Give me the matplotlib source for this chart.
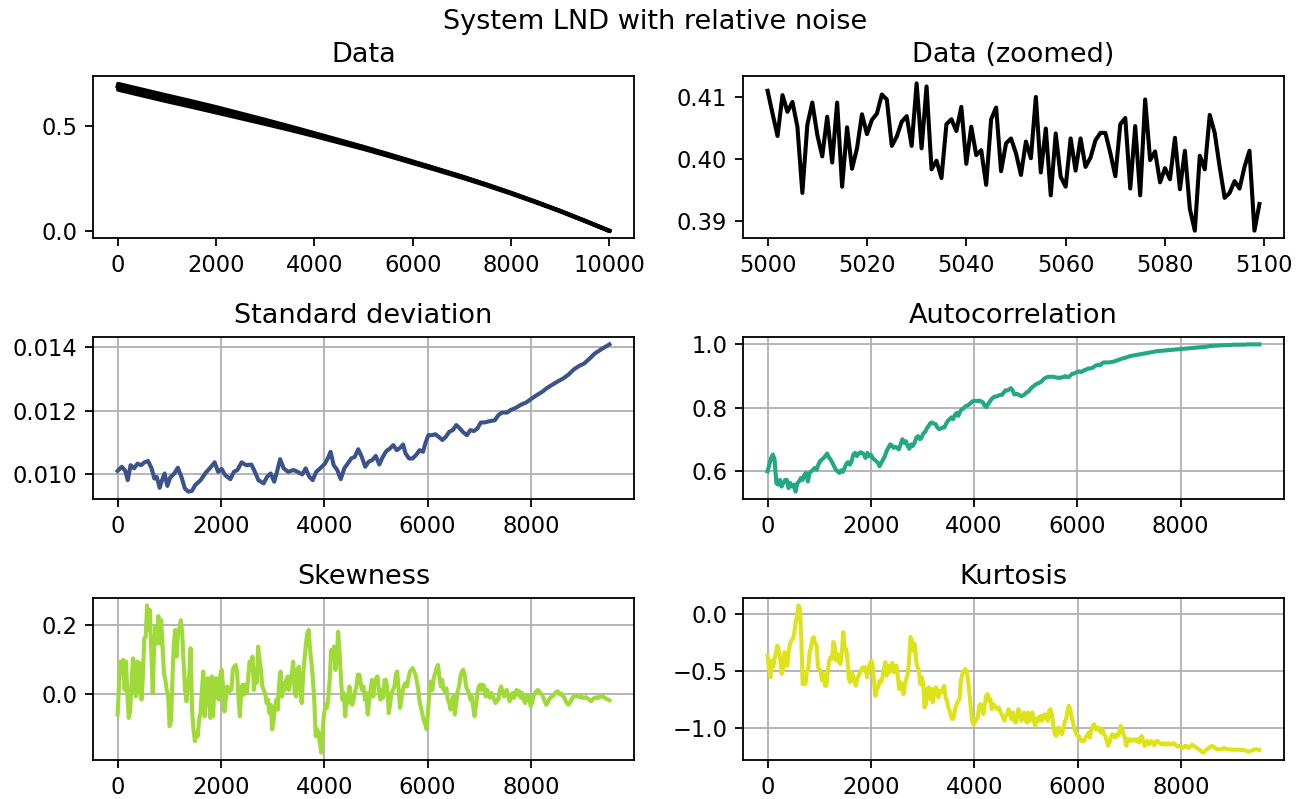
import numpy as np
import matplotlib
matplotlib.use("Agg")
import matplotlib.pyplot as plt

# ---------------- data ----------------
data_x = [0, 500, 1000, 1500, 2000, 2500, 3000, 3500, 4000, 4500, 5000,
          5500, 6000, 6500, 7000, 7500, 8000, 8500, 9000, 9500, 10000]
data_center = [0.693, 0.665, 0.637, 0.610, 0.582, 0.553, 0.524, 0.494, 0.463, 0.431,
               0.399, 0.365, 0.330, 0.295, 0.259, 0.221, 0.181, 0.139, 0.095, 0.048, 0.0]
data_halfband = [0.014, 0.014, 0.014, 0.0135, 0.013, 0.0115, 0.010, 0.0085, 0.007, 0.006,
                 0.005, 0.0045, 0.004, 0.0035, 0.003, 0.0025, 0.002, 0.0015, 0.001, 0.0005, 0.0]

zoom_start = 5000
zoom_vals = [0.4110, 0.4073, 0.4037, 0.4103, 0.4076, 0.4092, 0.4052, 0.3945, 0.4055, 0.4091,
             0.4039, 0.4004, 0.4068, 0.3994, 0.4091, 0.3955, 0.4051, 0.3984, 0.4017, 0.4072,
             0.4040, 0.4063, 0.4073, 0.4104, 0.4096, 0.4021, 0.4036, 0.4060, 0.4069, 0.4021,
             0.4122, 0.4017, 0.4117, 0.3983, 0.3997, 0.3969, 0.4056, 0.4064, 0.4045, 0.4084,
             0.3992, 0.4052, 0.4006, 0.4014, 0.3958, 0.4064, 0.4083, 0.3980, 0.4025, 0.4033,
             0.4009, 0.3974, 0.4028, 0.4001, 0.4100, 0.3978, 0.4049, 0.3941, 0.4041, 0.3971,
             0.3955, 0.4033, 0.3981, 0.4033, 0.3987, 0.4002, 0.4030, 0.4042, 0.4042, 0.4009,
             0.3972, 0.4056, 0.4066, 0.3952, 0.4053, 0.3941, 0.4096, 0.3998, 0.4012, 0.3962,
             0.3985, 0.3967, 0.4034, 0.3951, 0.4013, 0.3919, 0.3884, 0.4005, 0.3983, 0.4071,
             0.4042, 0.3987, 0.3937, 0.3945, 0.3964, 0.3952, 0.3987, 0.4013, 0.3884, 0.3927]

std_x = [0, 81, 149, 197, 251, 319, 386, 454, 522, 590, 658, 712, 759, 814, 861, 909, 963,
         1017, 1098, 1166, 1234, 1302, 1370, 1437, 1505, 1607, 1709, 1810, 1878, 1946, 2014,
         2081, 2183, 2251, 2319, 2400, 2488, 2590, 2658, 2726, 2827, 2895, 2963, 3031, 3085,
         3146, 3214, 3302, 3404, 3485, 3573, 3641, 3709, 3776, 3844, 3932, 4014, 4082, 4122,
         4183, 4251, 4319, 4387, 4454, 4522, 4590, 4658, 4726, 4793, 4861, 4929, 4997, 5065,
         5133, 5200, 5268, 5336, 5404, 5471, 5526, 5573, 5641, 5709, 5777, 5844, 5912, 5946,
         6014, 6082, 6149, 6217, 6285, 6353, 6421, 6488, 6556, 6624, 6692, 6760, 6827, 6895,
         6963, 7031, 7099, 7200, 7302, 7370, 7438, 7539, 7607, 7709, 7811, 7912, 8014, 8116,
         8217, 8319, 8421, 8522, 8624, 8726, 8828, 8929, 9031, 9133, 9234, 9336, 9438, 9519]
std_vals = [0.01011, 0.01024, 0.01011, 0.00982, 0.01029, 0.01019, 0.01034, 0.01029, 0.01038,
            0.01042, 0.01019, 0.00987, 0.00992, 0.00958, 0.00982, 0.01003, 0.00964, 0.00990,
            0.01003, 0.01021, 0.00993, 0.00956, 0.00946, 0.00948, 0.00967, 0.00982, 0.01006,
            0.01024, 0.01038, 0.01008, 0.01017, 0.00998, 0.00985, 0.01008, 0.01014, 0.01038,
            0.01029, 0.01031, 0.01008, 0.00982, 0.00972, 0.00993, 0.01003, 0.00977, 0.01008,
            0.01048, 0.01019, 0.01008, 0.01014, 0.01008, 0.01000, 0.01019, 0.00993, 0.00982,
            0.01008, 0.01021, 0.01034, 0.01055, 0.01071, 0.01029, 0.01014, 0.00985, 0.01019,
            0.01034, 0.01050, 0.01055, 0.01079, 0.01055, 0.01024, 0.01040, 0.01045, 0.01058,
            0.01031, 0.01055, 0.01073, 0.01081, 0.01092, 0.01076, 0.01084, 0.01094, 0.01066,
            0.01050, 0.01050, 0.01061, 0.01076, 0.01071, 0.01092, 0.01123, 0.01123, 0.01126,
            0.01118, 0.01108, 0.01118, 0.01134, 0.01139, 0.01155, 0.01144, 0.01132, 0.01123,
            0.01139, 0.01136, 0.01144, 0.01163, 0.01163, 0.01167, 0.01170, 0.01186, 0.01194,
            0.01194, 0.01202, 0.01209, 0.01219, 0.01226, 0.01238, 0.01249, 0.01259, 0.01272,
            0.01282, 0.01292, 0.01301, 0.01313, 0.01329, 0.01340, 0.01348, 0.01363, 0.01379,
            0.01390, 0.01400, 0.01408]

acf_end = 9525
acf_vals = [0.600, 0.621, 0.642, 0.653, 0.637, 0.563, 0.558, 0.573, 0.552, 0.563, 0.573, 0.573,
            0.547, 0.563, 0.552, 0.558, 0.536, 0.563, 0.568, 0.579, 0.573, 0.589, 0.595, 0.568,
            0.595, 0.600, 0.605, 0.611, 0.605, 0.621, 0.632, 0.637, 0.642, 0.648, 0.656, 0.645,
            0.637, 0.627, 0.616, 0.605, 0.600, 0.595, 0.603, 0.598, 0.611, 0.624, 0.629, 0.621,
            0.632, 0.653, 0.658, 0.648, 0.656, 0.660, 0.658, 0.653, 0.642, 0.658, 0.648, 0.653,
            0.642, 0.637, 0.632, 0.627, 0.616, 0.627, 0.637, 0.648, 0.664, 0.674, 0.685, 0.681,
            0.674, 0.677, 0.674, 0.669, 0.685, 0.701, 0.690, 0.695, 0.680, 0.671, 0.685, 0.680,
            0.690, 0.706, 0.711, 0.701, 0.706, 0.720, 0.724, 0.735, 0.743, 0.752, 0.754, 0.750,
            0.749, 0.738, 0.733, 0.735, 0.738, 0.738, 0.750, 0.759, 0.764, 0.770, 0.764, 0.777,
            0.784, 0.775, 0.788, 0.796, 0.798, 0.805, 0.807, 0.810, 0.815, 0.820, 0.822, 0.822,
            0.821, 0.823, 0.820, 0.818, 0.807, 0.802, 0.812, 0.820, 0.828, 0.833, 0.836, 0.836,
            0.839, 0.841, 0.841, 0.849, 0.855, 0.855, 0.858, 0.862, 0.855, 0.842, 0.844, 0.843,
            0.839, 0.837, 0.839, 0.843, 0.849, 0.851, 0.858, 0.865, 0.868, 0.873, 0.876, 0.878,
            0.881, 0.886, 0.892, 0.895, 0.897, 0.898, 0.898, 0.898, 0.897, 0.895, 0.895, 0.894,
            0.896, 0.897, 0.900, 0.897, 0.897, 0.902, 0.907, 0.908, 0.911, 0.913, 0.915, 0.913,
            0.915, 0.919, 0.920, 0.924, 0.924, 0.925, 0.927, 0.932, 0.934, 0.936, 0.934, 0.940,
            0.943, 0.943, 0.943, 0.943, 0.944, 0.945, 0.946, 0.948, 0.950, 0.952, 0.954, 0.956,
            0.957, 0.959, 0.961, 0.963, 0.964, 0.965, 0.966, 0.967, 0.968, 0.969, 0.970, 0.971,
            0.972, 0.973, 0.974, 0.975,
            0.976, 0.977, 0.978, 0.979, 0.979, 0.980, 0.980, 0.981, 0.981, 0.982, 0.982, 0.983,
            0.983, 0.984, 0.984, 0.985, 0.985, 0.986, 0.986, 0.987, 0.987, 0.988, 0.988, 0.989,
            0.989, 0.990, 0.990, 0.991, 0.991, 0.992, 0.992, 0.993, 0.994, 0.995, 0.995, 0.996,
            0.996, 0.996, 0.997, 0.997, 0.997, 0.997, 0.998, 0.998, 0.998, 0.998, 0.999, 0.999,
            0.999, 0.999, 0.999, 0.999, 0.999, 0.999, 1.000, 1.000, 1.000, 1.000, 1.000, 1.000,
            1.000, 1.000]

skew_end = 9520
skew_vals = [-0.059, 0.022, 0.094, 0.060, 0.099, 0.012, 0.094, -0.007, -0.069, -0.045, 0.041,
             0.103, 0.022, -0.007, 0.094, 0.003, 0.089, -0.016, 0.051, 0.161, 0.166, 0.256,
             0.185, 0.242, 0.122, 0.003, 0.132, 0.194, 0.146, 0.225, 0.146, 0.213, 0.137,
             0.060, 0.041, 0.012, -0.007, -0.093, -0.078, 0.041, 0.146, 0.185, 0.108, 0.175,
             0.189, 0.213, 0.175, 0.089, 0.012, -0.021, 0.022, 0.056, 0.132, -0.045, -0.102,
             -0.136, -0.112, -0.122, -0.074, -0.055, 0.012, 0.065, -0.064, 0.012, 0.046,
             -0.016, -0.069, 0.051, -0.064, 0.032, 0.046, -0.007, -0.016, 0.051, 0.070, 0.027,
             -0.050, -0.016, 0.022, 0.003, 0.017, 0.012, 0.070, 0.079, 0.084, 0.065, -0.007,
             -0.064, 0.008, 0.027, -0.002, 0.027, 0.003, 0.051, 0.094, 0.070, 0.108, 0.012,
             0.070, 0.032, 0.137, 0.099, 0.070, 0.022, 0.012, 0.003, -0.026, -0.016, -0.055,
             -0.031, -0.102, -0.078, -0.035, -0.016, -0.045, 0.032, 0.065, -0.007, 0.032,
             0.012, 0.041, 0.051, 0.012, 0.041, 0.060, 0.094, 0.003, -0.007, 0.070, 0.079,
             0.017, -0.026, 0.051, 0.099, 0.142, 0.175, 0.185, 0.127, 0.089, 0.041, -0.021,
             -0.122, -0.102, -0.112, -0.145, -0.169, -0.102, -0.055, -0.031, -0.040, -0.007,
             0.046, 0.127, 0.108, 0.137, 0.070, 0.108, 0.180, 0.118, 0.041, -0.016, 0.003,
             -0.064, -0.002, -0.026, 0.022, -0.016, -0.031, -0.016, 0.008, 0.022, 0.056, 0.056,
             0.032, 0.012, 0.022, -0.016, 0.003, -0.059, -0.021, 0.012, 0.041, -0.007, 0.032,
             0.046, 0.051, 0.012, -0.016, 0.012, -0.011, 0.041, 0.041, 0.012, -0.055, -0.026,
             0.003, 0.012, 0.022, 0.056, 0.065, 0.012, -0.040, -0.016, 0.012, 0.027, 0.032,
             0.022, 0.046, 0.065, 0.070, 0.075, 0.065, 0.056, 0.036, 0.012, -0.026, -0.040,
             -0.059, -0.078, -0.088, -0.102, -0.045, 0.012, 0.036, 0.012, 0.046, 0.060, 0.075,
             0.084, 0.051, 0.022, 0.041, 0.012, 0.008, 0.017, -0.016, -0.026, -0.045, -0.016,
             -0.007, -0.059, -0.026, 0.008, 0.022, 0.051, 0.065, 0.070, 0.056, 0.022, 0.012,
             0.003, -0.016, -0.007, -0.035, -0.064, -0.035, 0.003, 0.022, 0.027, 0.012, 0.027,
             0.022, -0.007, 0.012, -0.002, -0.011, 0.003, -0.007, -0.016, -0.026, -0.016,
             -0.016, 0.012, 0.022, 0.003, -0.007, 0.008, 0.012, -0.007, -0.021, -0.007, 0.003,
             -0.011, 0.003, 0.012, -0.002, 0.008, -0.011, 0.003, -0.016, -0.026, -0.011,
             -0.002, -0.016, -0.035, -0.026, -0.007, 0.003, 0.008, 0.012,
             0.008, 0.003, -0.002, -0.011, -0.021, -0.031, -0.026, -0.016, -0.011, -0.007,
             -0.005, 0.001, 0.005, 0.008, 0.005, -0.002, 0.001, -0.005, -0.011, -0.021, -0.028,
             -0.031, -0.024, -0.016, -0.009, -0.005, -0.007, -0.005, -0.007, -0.009, -0.007,
             -0.011, -0.011, -0.009, -0.011, -0.014, -0.018, -0.021, -0.016, -0.012, -0.011,
             -0.009, -0.011, -0.009, -0.007, -0.005, -0.009, -0.012, -0.014, -0.016, -0.018]

kurt_end = 9520
kurt_vals = [-0.364, -0.481, -0.554, -0.408, -0.466, -0.393, -0.334, -0.276, -0.320, -0.393,
             -0.525, -0.496, -0.334, -0.349, -0.452, -0.334, -0.261, -0.232, -0.217, -0.173,
             -0.070, -0.026, 0.076, 0.047, -0.188, -0.613, -0.601, -0.613, -0.510, -0.481,
             -0.334, -0.290, -0.217, -0.202, -0.261, -0.276, -0.466, -0.481, -0.510, -0.584,
             -0.525, -0.628, -0.628, -0.496, -0.408, -0.378, -0.393, -0.246, -0.290, -0.408,
             -0.349, -0.422, -0.437, -0.349, -0.158, -0.305, -0.305, -0.393, -0.569, -0.598,
             -0.510, -0.540, -0.584, -0.628, -0.569, -0.540, -0.510, -0.481, -0.466, -0.496,
             -0.466, -0.554, -0.481, -0.437, -0.408, -0.452, -0.598, -0.716, -0.657, -0.642,
             -0.584, -0.598, -0.554, -0.481, -0.422, -0.540, -0.452, -0.510, -0.452, -0.428,
             -0.510, -0.466, -0.452, -0.554, -0.657, -0.598, -0.642, -0.701, -0.613, -0.569,
             -0.525, -0.408, -0.202, -0.232, -0.320, -0.261, -0.408, -0.466, -0.496, -0.613,
             -0.554, -0.598, -0.818, -0.789, -0.657, -0.642, -0.745, -0.657, -0.774, -0.672,
             -0.642, -0.657, -0.730, -0.672, -0.686, -0.657, -0.628, -0.730, -0.760, -0.818,
             -0.848, -0.906, -0.921, -0.892, -0.818, -0.789, -0.760, -0.745, -0.584, -0.525,
             -0.510, -0.481, -0.496, -0.569, -0.686, -0.818, -0.935, -0.965, -0.950, -0.921,
             -0.906, -0.804, -0.789, -0.818, -0.877, -0.789, -0.716, -0.701, -0.760, -0.745,
             -0.833, -0.789, -0.804, -0.818, -0.833, -0.818, -0.848, -0.877, -0.906, -0.935,
             -0.892, -0.877, -0.833, -0.877, -0.921, -0.862, -0.935, -0.950, -0.906, -0.833,
             -0.877, -0.935, -0.892, -0.862, -0.921, -0.950, -0.862, -0.935, -0.906, -0.862,
             -0.935, -0.979, -0.921, -0.906, -0.935, -0.892, -0.935, -0.892, -0.877, -0.906,
             -0.935, -0.848, -0.833, -0.892, -0.979, -1.053, -1.067, -1.023, -0.994, -1.038,
             -1.053, -1.009, -0.950, -0.921, -0.848, -0.804, -0.833, -0.906, -0.950, -1.009,
             -1.038, -1.067, -1.067, -1.097, -1.111, -1.103, -1.111, -1.082, -1.067, -1.038,
             -1.082, -1.009, -0.979, -0.965, -1.009, -1.009, -0.994, -1.023, -1.038, -1.009,
             -1.053, -1.067, -1.111, -1.155, -1.126, -1.082, -1.053, -1.067, -1.082, -1.053,
             -1.067, -1.038, -0.979, -1.009, -1.053, -1.082, -1.155, -1.097, -1.111, -1.097,
             -1.111, -1.106, -1.097, -1.111, -1.097, -1.126, -1.091, -1.067, -1.111, -1.155,
             -1.126, -1.111, -1.141, -1.126, -1.111, -1.132, -1.150, -1.120, -1.111, -1.120,
             -1.132, -1.141, -1.141, -1.132, -1.144, -1.141, -1.132, -1.141, -1.141, -1.132,
             -1.132, -1.144, -1.155, -1.161, -1.155, -1.161, -1.170, -1.170, -1.155, -1.155,
             -1.170, -1.170, -1.155, -1.144, -1.155, -1.161, -1.170, -1.179, -1.185, -1.196,
             -1.208, -1.214, -1.202, -1.191, -1.179, -1.173, -1.161, -1.155, -1.161, -1.170,
             -1.179, -1.185, -1.185, -1.185, -1.185, -1.179, -1.173, -1.179, -1.185, -1.185,
             -1.185, -1.188, -1.188, -1.188, -1.188, -1.188, -1.188, -1.188, -1.191, -1.191,
             -1.191, -1.194, -1.199, -1.205, -1.205, -1.199, -1.194, -1.188, -1.185, -1.185,
             -1.188, -1.191]

suptitle = "System LND with relative noise"
titles = ["Data", "Data (zoomed)", "Standard deviation", "Autocorrelation", "Skewness", "Kurtosis"]
colors = {"std": "#3b528b", "acf": "#22a884", "skew": "#a0da39", "kurt": "#dde318"}

# ---------------- figure ----------------
W, H, DPI = 1310, 799, 163
LW = 1.8
TITLE_FS = 12
fig = plt.figure(figsize=(W / DPI, H / DPI), dpi=DPI)

def box(l, t, r, b):
    return [l / W, 1 - b / H, (r - l) / W, (b - t) / H]

cols = [(93, 634), (743, 1284)]
rows = [(76, 238), (337, 499), (598, 760)]
axs = [[fig.add_axes(box(c[0], r[0], c[1], r[1])) for c in cols] for r in rows]

# Data
ax = axs[0][0]
dx = np.array(data_x, dtype=float)
dc = np.array(data_center)
dh = np.array(data_halfband)
ax.fill_between(dx, dc - dh, dc + dh, color="black", lw=LW)
ax.plot(dx, dc, color="black", lw=LW)
ax.set_xticks([0, 2000, 4000, 6000, 8000, 10000])
ax.set_yticks([0.0, 0.5])
ax.set_title(titles[0], fontsize=TITLE_FS)

# Zoomed
ax = axs[0][1]
zx = zoom_start + np.arange(len(zoom_vals))
ax.plot(zx, zoom_vals, color="black", lw=LW)
ax.set_xticks([5000, 5020, 5040, 5060, 5080, 5100])
ax.set_yticks([0.39, 0.40, 0.41])
ax.set_title(titles[1], fontsize=TITLE_FS)

# Std
ax = axs[1][0]
ax.plot(std_x, std_vals, color=colors["std"], lw=LW)
ax.set_yticks([0.010, 0.012, 0.014])
ax.set_title(titles[2], fontsize=TITLE_FS)

# Autocorrelation
ax = axs[1][1]
ax.plot(np.linspace(0, acf_end, len(acf_vals)), acf_vals, color=colors["acf"], lw=LW)
ax.set_yticks([0.6, 0.8, 1.0])
ax.set_title(titles[3], fontsize=TITLE_FS)

# Skewness
ax = axs[2][0]
ax.plot(np.linspace(0, skew_end, len(skew_vals)), skew_vals, color=colors["skew"], lw=LW)
ax.set_yticks([0.0, 0.2])
ax.set_title(titles[4], fontsize=TITLE_FS)

# Kurtosis
ax = axs[2][1]
ax.plot(np.linspace(0, kurt_end, len(kurt_vals)), kurt_vals, color=colors["kurt"], lw=LW)
ax.set_yticks([-1.0, -0.5, 0.0])
ax.set_title(titles[5], fontsize=TITLE_FS)

for r in (1, 2):
    for c in (0, 1):
        axs[r][c].grid(True)
        axs[r][c].set_xticks([0, 2000, 4000, 6000, 8000])

fig.suptitle(suptitle, y=1 - 9 / H, va="top", fontsize=TITLE_FS)
fig.savefig("out.png", dpi=DPI)
